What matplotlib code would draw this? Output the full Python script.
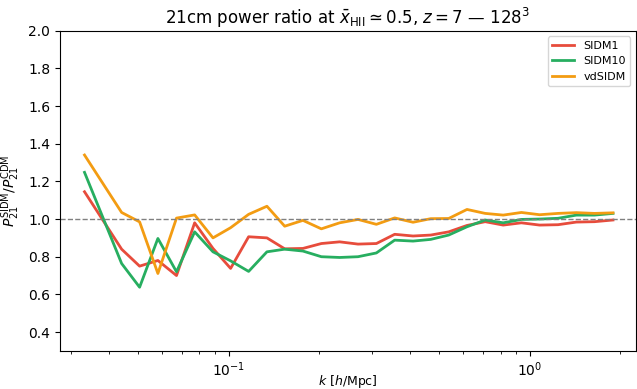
import matplotlib
matplotlib.use("Agg")
import matplotlib.pyplot as plt

k = [0.0332, 0.0441, 0.0506, 0.0582, 0.0671, 0.0771, 0.0887, 0.1015, 0.1165, 0.1340,
     0.1535, 0.1765, 0.2032, 0.2337, 0.2689, 0.3095, 0.3560, 0.4097, 0.4690, 0.5381,
     0.6190, 0.7113, 0.8166, 0.9384, 1.079, 1.242, 1.429, 1.641, 1.891]

sidm1 = [1.145, 0.840, 0.750, 0.780, 0.700, 0.980, 0.844, 0.738, 0.906, 0.900,
         0.842, 0.844, 0.870, 0.879, 0.867, 0.870, 0.919, 0.910, 0.915, 0.932,
         0.966, 0.986, 0.968, 0.980, 0.968, 0.970, 0.984, 0.986, 0.995]

sidm10 = [1.248, 0.764, 0.638, 0.897, 0.720, 0.932, 0.826, 0.778, 0.722, 0.826,
          0.840, 0.830, 0.800, 0.796, 0.800, 0.820, 0.888, 0.883, 0.892, 0.915,
          0.959, 0.995, 0.980, 0.998, 1.000, 1.004, 1.021, 1.021, 1.030]

vdsidm = [1.340, 1.035, 0.985, 0.711, 1.005, 1.022, 0.900, 0.954, 1.025, 1.068,
          0.962, 0.993, 0.948, 0.980, 0.998, 0.972, 1.006, 0.983, 1.002, 1.003,
          1.051, 1.030, 1.021, 1.035, 1.023, 1.030, 1.034, 1.030, 1.033]

series = [("SIDM1", sidm1, "#e74c3c"),
          ("SIDM10", sidm10, "#27ae60"),
          ("vdSIDM", vdsidm, "#f39c12")]

fig = plt.figure(figsize=(6.37, 3.89), dpi=100)
ax = fig.add_axes([0.094, 0.098, 0.904, 0.823])

for name, vals, col in series:
    ax.plot(k, vals, color=col, lw=2, label=name)

ax.axhline(1.0, color="gray", ls="--", lw=1)
ax.set_xscale("log")
ax.set_xlim(0.0275, 2.25)
ax.set_ylim(0.3, 2.0)
ax.set_xlabel(r"$k$ [$h$/Mpc]", fontsize=9)
ax.xaxis.set_label_coords(0.5, -0.07)
ax.set_ylabel(r"$P_{21}^{\rm SIDM}/P_{21}^{\rm CDM}$")
ax.set_title(r"21cm power ratio at $\bar{x}_{\rm HII} \simeq 0.5$, $z = 7$ — $128^3$", pad=5)
ax.legend(loc="upper right", fontsize=8)

fig.savefig("out.png", dpi=100)
